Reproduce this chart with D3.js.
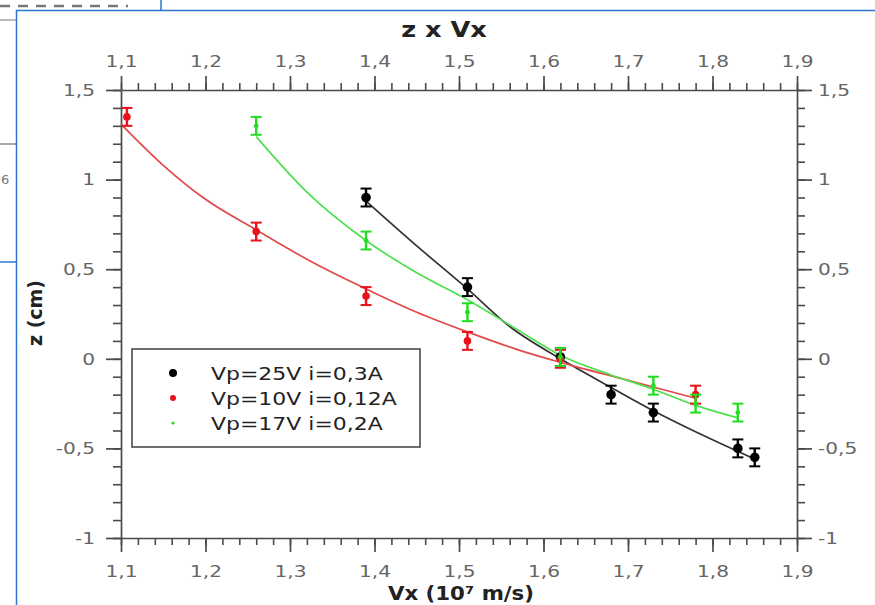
<!DOCTYPE html>
<html>
<head>
<meta charset="utf-8">
<script src="https://cdn.jsdelivr.net/npm/d3@7"></script>
<style>
  body { margin: 0; background: #fff; }
  svg { display: block; font-family: "DejaVu Sans", sans-serif; }
</style>
</head>
<body>
<div id="chart"></div>
<script>
const seriesNames = ["Vp=25V i=0,3A", "Vp=10V i=0,12A", "Vp=17V i=0,2A"];

const vxBlack = [1.39, 1.51, 1.62, 1.68, 1.73, 1.83, 1.85];
const zBlack  = [0.90, 0.40, 0.01, -0.20, -0.30, -0.50, -0.55];

const vxRed = [1.107, 1.26, 1.39, 1.51, 1.62, 1.78];
const zRed  = [1.35, 0.71, 0.35, 0.10, 0.00, -0.20];

const vxGreen = [1.26, 1.39, 1.51, 1.62, 1.73, 1.78, 1.83];
const zGreen  = [1.30, 0.66, 0.26, 0.01, -0.15, -0.25, -0.30];

const zErr = 0.05;

// Fitted curves.
const fitBlackVx = [1.39, 1.45, 1.51, 1.56, 1.62, 1.68, 1.73, 1.79, 1.85];
const fitBlackZ  = [0.88, 0.63, 0.39, 0.18, 0.00, -0.16, -0.29, -0.43, -0.56];

const fitRedVx = [1.10, 1.15, 1.20, 1.26, 1.33, 1.39, 1.45, 1.51, 1.57, 1.62, 1.70, 1.78];
const fitRedZ  = [1.31, 1.08, 0.89, 0.72, 0.53, 0.39, 0.26, 0.15, 0.05, -0.02, -0.12, -0.22];

const fitGreenVx = [1.26, 1.32, 1.39, 1.45, 1.51, 1.57, 1.62, 1.68, 1.73, 1.78, 1.83];
const fitGreenZ  = [1.24, 0.93, 0.66, 0.48, 0.33, 0.16, 0.02, -0.09, -0.17, -0.26, -0.33];

const xTicks = [1.1, 1.2, 1.3, 1.4, 1.5, 1.6, 1.7, 1.8, 1.9];
const yTicks = [-1, -0.5, 0, 0.5, 1, 1.5];

const width = 875, height = 605;
const fmt = v => String(+v.toFixed(2)).replace(".", ",");
const K = 1.22; // horizontal stretch seen in the screenshot

function stretch(sel, k) {
  sel.each(function() {
    const w = this.getComputedTextLength();
    d3.select(this).attr("textLength", w * k).attr("lengthAdjust", "spacingAndGlyphs");
  });
}

const svg = d3.select("#chart").append("svg")
  .attr("width", width)
  .attr("height", height);

// Bits of the surrounding window from the screenshot.
const chrome = svg.append("g");
chrome.append("line").attr("x1", 0).attr("x2", 128).attr("y1", 6).attr("y2", 6)
  .attr("stroke", "#777").attr("stroke-width", 2.5).attr("stroke-dasharray", "10,8");
chrome.append("line").attr("x1", 0).attr("x2", 16).attr("y1", 20).attr("y2", 20).attr("stroke", "#777");
chrome.append("line").attr("x1", 0).attr("x2", 16).attr("y1", 144).attr("y2", 144).attr("stroke", "#555");
chrome.append("line").attr("x1", 161).attr("x2", 161).attr("y1", 0).attr("y2", 10).attr("stroke", "#2a76d2").attr("stroke-width", 1.5);
chrome.append("line").attr("x1", 0).attr("x2", 16).attr("y1", 262).attr("y2", 262).attr("stroke", "#2a76d2").attr("stroke-width", 1.5);
chrome.append("text").attr("x", 1).attr("y", 184).attr("font-size", 13).attr("fill", "#777").text("6");
chrome.append("rect").attr("x", 16.5).attr("y", 10.5).attr("width", 900).attr("height", 700)
  .attr("fill", "none").attr("stroke", "#2a76d2").attr("stroke-width", 1.5);

const x = d3.scaleLinear().domain([1.1, 1.9]).range([121, 797]);
const y = d3.scaleLinear().domain([-1, 1.5]).range([538, 90]);

const xMinor = d3.range(1.1, 1.9001, 0.02).map(v => +v.toFixed(2));
const yMinor = d3.range(-1, 1.5001, 0.1).map(v => +v.toFixed(2));

const axisColor = "#4a4a4a";

function drawAxis(axis, tx, ty, minorAxis) {
  const gMinor = svg.append("g").attr("transform", `translate(${tx},${ty})`).call(minorAxis);
  gMinor.select(".domain").remove();
  gMinor.selectAll("line").attr("stroke", axisColor).attr("stroke-width", 1.6);
  const g = svg.append("g").attr("transform", `translate(${tx},${ty})`).call(axis);
  g.select(".domain").attr("stroke", axisColor).attr("stroke-width", 1.7);
  g.selectAll("line").attr("stroke", axisColor).attr("stroke-width", 1.7);
  g.selectAll("text")
    .attr("fill", "#666")
    .attr("font-size", 16.5)
    .attr("font-family", "DejaVu Sans");
  stretch(g.selectAll("text"), K);
}

drawAxis(d3.axisTop(x).tickValues(xTicks).tickFormat(fmt).tickSize(14).tickSizeOuter(0).tickPadding(9),
  0, 90, d3.axisTop(x).tickValues(xMinor).tickFormat("").tickSize(7));
drawAxis(d3.axisBottom(x).tickValues(xTicks).tickFormat(fmt).tickSize(14).tickSizeOuter(0).tickPadding(13),
  0, 538, d3.axisBottom(x).tickValues(xMinor).tickFormat("").tickSize(7));
drawAxis(d3.axisLeft(y).tickValues(yTicks).tickFormat(fmt).tickSize(15).tickSizeOuter(0).tickPadding(11),
  121, 0, d3.axisLeft(y).tickValues(yMinor).tickFormat("").tickSize(8));
drawAxis(d3.axisRight(y).tickValues(yTicks).tickFormat(fmt).tickSize(15).tickSizeOuter(0).tickPadding(6),
  797, 0, d3.axisRight(y).tickValues(yMinor).tickFormat("").tickSize(8));

// Series setup.
const series = [
  { name: seriesNames[0], vx: vxBlack, z: zBlack, fx: fitBlackVx, fz: fitBlackZ,
    color: "#000", line: "#333", r: 4.8, legendR: 4 },
  { name: seriesNames[1], vx: vxRed, z: zRed, fx: fitRedVx, fz: fitRedZ,
    color: "#e8121c", line: "#e04a4a", r: 3.8, legendR: 3 },
  { name: seriesNames[2], vx: vxGreen, z: zGreen, fx: fitGreenVx, fz: fitGreenZ,
    color: "#22dd22", line: "#4ee04e", r: 2.4, legendR: 1.6 }
];

const line = d3.line().x(d => x(d[0])).y(d => y(d[1])).curve(d3.curveMonotoneX);

// Fit curves.
series.forEach(s => {
  svg.append("path")
    .datum(d3.zip(s.fx, s.fz))
    .attr("fill", "none")
    .attr("stroke", s.line)
    .attr("stroke-width", 1.7)
    .attr("d", line);
});

// Error bars and points.
series.forEach(s => {
  const pts = d3.zip(s.vx, s.z);
  const g = svg.append("g");
  const eb = g.selectAll("g.eb").data(pts).join("g").attr("class", "eb");
  eb.append("line")
    .attr("x1", d => x(d[0])).attr("x2", d => x(d[0]))
    .attr("y1", d => y(d[1] + zErr)).attr("y2", d => y(d[1] - zErr))
    .attr("stroke", s.color).attr("stroke-width", 2.4);
  [zErr, -zErr].forEach(e => {
    eb.append("line")
      .attr("x1", d => x(d[0]) - 5.5).attr("x2", d => x(d[0]) + 5.5)
      .attr("y1", d => y(d[1] + e)).attr("y2", d => y(d[1] + e))
      .attr("stroke", s.color).attr("stroke-width", 2);
  });
  g.selectAll("circle").data(pts).join("circle")
    .attr("cx", d => x(d[0]))
    .attr("cy", d => y(d[1]))
    .attr("r", s.r)
    .attr("fill", s.color);
});

// Legend.
const legend = svg.append("g");
legend.append("rect")
  .attr("x", 132).attr("y", 349).attr("width", 288).attr("height", 98)
  .attr("fill", "#fff").attr("stroke", axisColor).attr("stroke-width", 1.6);
series.forEach((s, i) => {
  const ly = 373 + i * 25;
  legend.append("circle").attr("cx", 173).attr("cy", ly).attr("r", s.legendR).attr("fill", s.color);
  const t = legend.append("text")
    .attr("x", 211).attr("y", ly + 7)
    .attr("font-size", 18).attr("fill", "#222")
    .text(s.name);
  stretch(t, K);
});

// Titles.
const title = svg.append("text")
  .attr("x", 444).attr("y", 37)
  .attr("text-anchor", "middle")
  .attr("font-size", 21).attr("font-weight", "bold").attr("fill", "#222")
  .text("z x Vx");
stretch(title, K);

const xLabel = svg.append("text")
  .attr("x", 461).attr("y", 600)
  .attr("text-anchor", "middle")
  .attr("font-size", 19).attr("font-weight", "bold").attr("fill", "#222")
  .text("Vx (10⁷ m/s)");
stretch(xLabel, 1.12);

svg.append("text")
  .attr("transform", "translate(42,313) rotate(-90)")
  .attr("text-anchor", "middle")
  .attr("font-size", 19).attr("font-weight", "bold").attr("fill", "#222")
  .text("z (cm)");
</script>
</body>
</html>
